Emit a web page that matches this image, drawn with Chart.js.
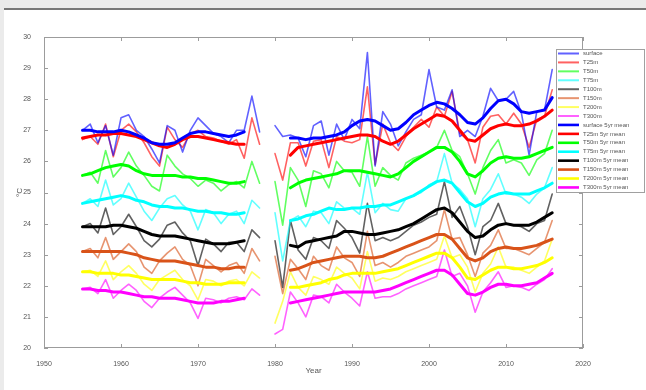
<!DOCTYPE html>
<html>
<head>
<meta charset="utf-8">
<script src="https://cdn.jsdelivr.net/npm/chart.js@4"></script>
<style>
  html, body { margin: 0; padding: 0; background: #ebebeb; }
  #panel { position: absolute; left: 4px; top: 8px; width: 642px; height: 382px; background: #fff; border-top: 2px solid #777; }
  #wrap { position: absolute; left: 0; top: 0; width: 646px; height: 390px; }
</style>
</head>
<body>
<div id="panel"></div>
<div id="wrap"><canvas id="chart" width="646" height="390"></canvas></div>
<script>
// years 1955..2016 (1979 missing)
const years = [];
for (let yr = 1955; yr <= 2016; yr++) years.push(yr);

// raw yearly temperatures (degC)
const surface = [27.0, 27.2, 26.6, 27.15, 26.2, 27.4, 27.5, 27.0, 26.8, 26.4, 25.95, 27.15, 27.0, 26.3, 27.0, 27.4, 27.15, 26.9, 26.8, 26.6, 27.0, 27.0, 28.1, 26.95, null,
  27.15, 26.8, 26.85, 26.75, 26.15, 27.15, 27.3, 26.2, 27.2, 26.7, 27.35, 27.05, 29.5, 25.85, 27.6, 27.2, 26.5, 26.95, 27.35, 27.5,
  28.95, 27.75, 27.65, 28.3, 26.8, 27.0, 26.8, 27.45, 28.35, 27.95, 28.0, 28.25, 27.55, 26.2, 27.6, 27.65, 28.95];
const t25 = [26.7, 26.8, 26.55, 27.2, 26.15, 27.0, 27.2, 26.95, 26.6, 26.15, 25.85, 27.1, 26.7, 26.45, 26.9, 27.0, 26.8, 26.75, 26.65, 26.55, 26.7, 26.1, 27.4, 26.55, null,
  26.25, 25.4, 26.6, 26.6, 25.85, 26.65, 26.7, 25.8, 26.8, 26.65, 26.6, 26.7, 28.4, 25.9, 27.2, 26.6, 26.35, 26.8, 27.1, 27.35,
  27.1, 27.75, 27.45, 28.25, 26.9, 26.7, 25.95, 27.1, 27.45, 27.5, 27.2, 27.55, 27.2, 26.45, 27.35, 27.45, 28.3];
const t50 = [25.55, 25.65, 25.3, 26.35, 25.5, 25.8, 26.3, 25.85, 25.55, 25.2, 25.05, 26.2, 25.85, 25.6, 25.45, 25.2, 25.4, 25.3, 25.05, 25.25, 25.35, 25.15, 26.0, 25.3, null,
  25.35, 23.95, 25.8, 25.4, 24.55, 25.7, 25.6, 25.15, 26.0, 25.7, 25.65, 25.2, 26.8, 25.2, 25.8, 25.55, 25.4, 25.95, 26.1, 26.2,
  26.3, 26.45, 27.0, 26.35, 26.15, 25.6, 24.95, 25.8, 26.35, 26.7, 25.95, 26.05, 25.95, 25.55, 26.05, 26.25, 27.0];
const t75 = [24.65, 24.8, 24.55, 25.4, 24.6, 24.8, 25.3, 24.85, 24.4, 24.1, 24.5, 24.8, 24.9, 24.6, 24.4, 23.8, 24.45, 24.35, 24.0, 24.3, 24.4, 24.0, 24.75, 24.5, null,
  24.35, 22.8, 24.1, 24.25, 23.9, 24.4, 24.35, 24.0, 24.7, 24.5, 24.5, 24.3, 25.65, 24.35, 24.65, 24.45, 24.4, 24.8, 24.9, 25.0,
  25.25, 25.35, 26.25, 25.3, 25.1, 24.8, 23.9, 24.8, 25.1, 25.6, 24.95, 24.95, 24.85, 24.65, 24.95, 25.15, 25.8];
const t100 = [23.9, 24.0, 23.7, 24.5, 23.65, 23.9, 24.3, 23.9, 23.45, 23.25, 23.5, 23.95, 24.05, 23.7, 23.45, 22.65, 23.5, 23.35, 23.1, 23.4, 23.4, 23.1, 23.8, 23.55, null,
  23.45, 21.95, 24.1, 23.15, 22.85, 23.55, 23.45, 23.2, 24.1, 23.85, 23.55, 23.05, 24.65, 23.45, 23.55, 23.45, 23.55, 23.75, 23.95, 24.05,
  24.2, 24.3, 25.35, 24.2, 24.55, 23.9, 23.0, 23.9, 24.1, 24.65, 24.0, 23.95, 23.9, 23.75, 24.0, 24.1, 24.95];
const t150 = [23.1, 23.2, 22.9, 23.55, 22.85, 23.1, 23.35, 23.1, 22.6, 22.4, 22.8, 23.05, 23.25, 22.85, 22.65, 22.0, 22.85, 22.65, 22.45, 22.65, 22.75, 22.4, 23.2, 22.8, null,
  22.95, 21.75, 22.85, 22.55, 22.2, 22.95, 22.65, 22.5, 23.25, 22.9, 22.75, 22.3, 23.75, 22.65, 22.75, 22.6, 22.75, 22.95, 23.05, 23.15,
  23.25, 23.45, 24.45, 23.5, 23.55, 23.0, 22.3, 23.05, 23.3, 23.8, 23.2, 23.2, 23.1, 23.0, 23.2, 23.4, 24.1];
const t200 = [22.45, 22.5, 22.3, 22.8, 22.2, 22.45, 22.65, 22.4, 22.05, 21.85, 22.2, 22.35, 22.5, 22.2, 22.0, 21.55, 22.2, 22.15, 22.0, 22.15, 22.2, 22.0, 22.45, 22.25, null,
  20.8, 21.5, 22.45, 21.95, 21.7, 22.3, 22.2, 22.05, 22.6, 22.4, 22.25, 21.9, 23.1, 22.15, 22.25, 22.2, 22.3, 22.45, 22.55, 22.65,
  22.75, 22.85, 23.6, 22.9, 23.0, 22.6, 21.8, 22.4, 22.7, 23.25, 22.6, 22.6, 22.5, 22.4, 22.6, 22.8, 23.5];
const t300 = [21.9, 21.95, 21.75, 22.2, 21.6, 21.85, 22.05, 21.85, 21.5, 21.3, 21.6, 21.8, 21.95, 21.7, 21.45, 20.95, 21.6, 21.55, 21.45, 21.6, 21.65, 21.55, 21.9, 21.7, null,
  20.45, 20.6, 21.8, 21.45, 21.0, 21.7, 21.65, 21.45, 22.05, 21.8, 21.6, 21.35, 22.45, 21.6, 21.65, 21.65, 21.75, 21.9, 22.0, 22.1,
  22.2, 22.3, 23.15, 22.3, 22.4, 22.0, 21.15, 21.8, 22.1, 22.45, 21.95, 22.0, 21.95, 21.85, 22.05, 22.2, 22.55];

// 5 year running means (1977-1981 empty)
const surfaceMean = [27.0, 27.0, 26.95, 26.95, 26.95, 27.0, 26.95, 26.85, 26.75, 26.6, 26.55, 26.55, 26.6, 26.75, 26.9, 26.95, 26.95, 26.9, 26.85, 26.8, 26.85, 26.95,
  null, null, null, null, null,
  26.75, 26.75, 26.7, 26.75, 26.75, 26.8, 26.85, 26.95, 27.15, 27.3, 27.35, 27.3, 27.15, 27.0, 27.05, 27.25, 27.5, 27.65,
  27.8, 27.9, 27.85, 27.7, 27.5, 27.25, 27.2, 27.4, 27.7, 27.95, 28.0, 27.85, 27.6, 27.55, 27.6, 27.65, 28.05];
const t25Mean = [26.75, 26.8, 26.85, 26.85, 26.9, 26.9, 26.85, 26.8, 26.7, 26.6, 26.5, 26.45, 26.55, 26.7, 26.8, 26.8, 26.75, 26.7, 26.65, 26.6, 26.55, 26.55,
  null, null, null, null, null,
  26.2, 26.45, 26.5, 26.55, 26.6, 26.65, 26.7, 26.75, 26.8, 26.85, 26.85, 26.8, 26.65, 26.55, 26.65, 26.85, 27.05, 27.2,
  27.35, 27.5, 27.45, 27.3, 27.0, 26.7, 26.65, 26.85, 27.05, 27.15, 27.2, 27.15, 27.15, 27.2, 27.3, 27.45, 27.65];
const t50Mean = [25.55, 25.6, 25.7, 25.8, 25.85, 25.9, 25.85, 25.7, 25.6, 25.55, 25.55, 25.55, 25.55, 25.5, 25.5, 25.45, 25.45, 25.4, 25.35, 25.3, 25.3, 25.35,
  null, null, null, null, null,
  25.15, 25.3, 25.4, 25.45, 25.5, 25.55, 25.6, 25.7, 25.7, 25.7, 25.65, 25.6, 25.55, 25.5, 25.6, 25.8, 26.0, 26.15,
  26.3, 26.45, 26.45, 26.3, 26.0, 25.6, 25.5, 25.7, 25.95, 26.1, 26.15, 26.1, 26.1, 26.15, 26.25, 26.35, 26.45];
const t75Mean = [24.65, 24.7, 24.75, 24.8, 24.85, 24.9, 24.85, 24.75, 24.7, 24.6, 24.55, 24.55, 24.5, 24.5, 24.45, 24.4, 24.4, 24.35, 24.35, 24.3, 24.3, 24.35,
  null, null, null, null, null,
  24.1, 24.15, 24.25, 24.3, 24.4, 24.5, 24.45, 24.45, 24.5, 24.5, 24.55, 24.55, 24.6, 24.6, 24.7, 24.8, 24.9, 25.05,
  25.2, 25.35, 25.4, 25.3, 25.0, 24.7, 24.55, 24.65, 24.85, 24.95, 25.0, 24.95, 24.95, 24.95, 25.05, 25.15, 25.3];
const t100Mean = [23.9, 23.9, 23.9, 23.9, 23.95, 23.95, 23.9, 23.85, 23.75, 23.65, 23.6, 23.6, 23.6, 23.55, 23.5, 23.45, 23.4, 23.35, 23.35, 23.35, 23.4, 23.45,
  null, null, null, null, null,
  23.3, 23.25, 23.4, 23.45, 23.5, 23.55, 23.6, 23.75, 23.75, 23.7, 23.65, 23.65, 23.7, 23.75, 23.8, 23.9, 24.0, 24.15,
  24.3, 24.45, 24.5, 24.35, 24.05, 23.75, 23.55, 23.6, 23.8, 23.95, 24.0, 23.95, 23.95, 23.95, 24.05, 24.2, 24.35];
const t150Mean = [23.1, 23.1, 23.1, 23.1, 23.1, 23.1, 23.05, 23.0, 22.9, 22.85, 22.8, 22.8, 22.8, 22.75, 22.7, 22.65, 22.6, 22.6, 22.55, 22.55, 22.6, 22.6,
  null, null, null, null, null,
  22.5, 22.55, 22.65, 22.75, 22.8, 22.85, 22.9, 22.95, 22.95, 22.95, 22.9, 22.9, 22.95, 23.05, 23.15, 23.25, 23.35, 23.45,
  23.55, 23.65, 23.65, 23.5, 23.2, 22.9, 22.8, 22.9, 23.1, 23.2, 23.25, 23.2, 23.2, 23.25, 23.3, 23.4, 23.5];
const t200Mean = [22.45, 22.45, 22.4, 22.4, 22.4, 22.35, 22.35, 22.3, 22.25, 22.2, 22.2, 22.2, 22.2, 22.15, 22.1, 22.1, 22.05, 22.05, 22.05, 22.1, 22.1, 22.1,
  null, null, null, null, null,
  21.95, 21.95, 22.0, 22.05, 22.1, 22.2, 22.25, 22.35, 22.4, 22.4, 22.4, 22.4, 22.45, 22.5, 22.55, 22.65, 22.75, 22.85,
  22.95, 23.05, 23.05, 22.9, 22.6, 22.25, 22.2, 22.35, 22.5, 22.6, 22.6, 22.55, 22.55, 22.6, 22.65, 22.75, 22.9];
const t300Mean = [21.9, 21.9, 21.85, 21.85, 21.8, 21.8, 21.75, 21.7, 21.65, 21.65, 21.6, 21.6, 21.6, 21.55, 21.5, 21.45, 21.45, 21.45, 21.5, 21.5, 21.55, 21.6,
  null, null, null, null, null,
  21.45, 21.5, 21.55, 21.6, 21.65, 21.7, 21.75, 21.8, 21.8, 21.8, 21.8, 21.8, 21.85, 21.9, 22.0, 22.1, 22.2, 22.3,
  22.4, 22.5, 22.5, 22.35, 22.05, 21.75, 21.7, 21.8, 21.95, 22.05, 22.05, 22.0, 22.0, 22.05, 22.1, 22.25, 22.4];

const seriesNames = ['surface', 'T25m', 'T50m', 'T75m', 'T100m', 'T150m', 'T200m', 'T300m'];
const seriesColors = ['#0000ff', '#ff0000', '#00ff00', '#00ffff', '#000000', '#d95319', '#ffff00', '#ff00ff'];
const rawSeries = [surface, t25, t50, t75, t100, t150, t200, t300];
const meanSeries = [surfaceMean, t25Mean, t50Mean, t75Mean, t100Mean, t150Mean, t200Mean, t300Mean];

function fade(hex, a) {
  const n = parseInt(hex.slice(1), 16);
  return 'rgba(' + (n >> 16) + ',' + ((n >> 8) & 255) + ',' + (n & 255) + ',' + a + ')';
}

function toPoints(vals) {
  return years.map((yr, i) => ({ x: yr, y: vals[i] }));
}

const datasets = [];
seriesNames.forEach((name, i) => {
  datasets.push({
    label: name,
    data: toPoints(rawSeries[i]),
    borderColor: fade(seriesColors[i], 0.62),
    borderWidth: 1.6,
    order: 1
  });
});
seriesNames.forEach((name, i) => {
  datasets.push({
    label: name + ' 5yr mean',
    data: toPoints(meanSeries[i]),
    borderColor: seriesColors[i],
    borderWidth: 3,
    order: 0
  });
});

// box around the axes with inward ticks, like matlab
const axesBox = {
  id: 'axesBox',
  afterDatasetsDraw(chart) {
    const { ctx, chartArea: a, scales } = chart;
    ctx.save();
    ctx.strokeStyle = '#9c9c9c';
    ctx.lineWidth = 1;
    ctx.strokeRect(a.left + 0.5, a.top + 0.5, a.right - a.left - 1, a.bottom - a.top - 1);
    ctx.beginPath();
    scales.x.ticks.forEach(t => {
      const px = Math.round(scales.x.getPixelForValue(t.value)) + 0.5;
      ctx.moveTo(px, a.bottom); ctx.lineTo(px, a.bottom - 4);
      ctx.moveTo(px, a.top); ctx.lineTo(px, a.top + 4);
    });
    scales.y.ticks.forEach(t => {
      const py = Math.round(scales.y.getPixelForValue(t.value)) + 0.5;
      ctx.moveTo(a.left, py); ctx.lineTo(a.left + 4, py);
      ctx.moveTo(a.right, py); ctx.lineTo(a.right - 4, py);
    });
    ctx.stroke();
    ctx.restore();
  }
};

// legend box sitting over the right edge
const boxLegend = {
  id: 'boxLegend',
  afterDraw(chart) {
    const ctx = chart.ctx;
    const left = 556, top = 49, w = 89, h = 144;
    ctx.save();
    ctx.fillStyle = '#fff';
    ctx.fillRect(left, top, w, h);
    ctx.strokeStyle = '#a0a0a0';
    ctx.lineWidth = 1;
    ctx.strokeRect(left + 0.5, top + 0.5, w - 1, h - 1);
    ctx.font = '6px "Liberation Sans", Arial, sans-serif';
    ctx.textBaseline = 'middle';
    chart.data.datasets.forEach((ds, i) => {
      const y = top + 4.5 + i * 8.93;
      ctx.strokeStyle = ds.borderColor;
      ctx.lineWidth = ds.borderWidth > 2 ? 2.6 : 2;
      ctx.beginPath();
      ctx.moveTo(left + 2, y);
      ctx.lineTo(left + 23, y);
      ctx.stroke();
      ctx.fillStyle = '#555';
      ctx.fillText(ds.label, left + 27, y);
    });
    ctx.restore();
  }
};

new Chart(document.getElementById('chart'), {
  type: 'line',
  data: { datasets: datasets },
  options: {
    responsive: false,
    animation: false,
    events: [],
    spanGaps: false,
    layout: { padding: { left: 0, top: 37, right: 63, bottom: 14 } },
    elements: {
      point: { radius: 0 },
      line: { tension: 0, borderCapStyle: 'round', borderJoinStyle: 'round' }
    },
    plugins: { legend: { display: false }, tooltip: { enabled: false } },
    scales: {
      x: {
        type: 'linear',
        min: 1950,
        max: 2020,
        grid: { display: false },
        border: { display: false },
        ticks: {
          stepSize: 10,
          padding: 4,
          color: '#555',
          font: { family: '"Liberation Sans", Arial, sans-serif', size: 7 },
          maxRotation: 0,
          callback: v => String(v)
        },
        title: {
          display: true,
          text: 'Year',
          color: '#555',
          padding: { top: 0, bottom: 0 },
          font: { family: '"Liberation Sans", Arial, sans-serif', size: 8 }
        },
        afterFit: s => { s.height = 28; }
      },
      y: {
        min: 20,
        max: 30,
        grid: { display: false },
        border: { display: false },
        ticks: {
          stepSize: 1,
          padding: 5,
          color: '#555',
          font: { family: '"Liberation Sans", Arial, sans-serif', size: 7 }
        },
        title: {
          display: true,
          text: '°C',
          color: '#555',
          padding: { top: 15, bottom: 0 },
          font: { family: '"Liberation Sans", Arial, sans-serif', size: 8 }
        },
        afterFit: s => { s.width = 44; }
      }
    }
  },
  plugins: [axesBox, boxLegend]
});
</script>
</body>
</html>
